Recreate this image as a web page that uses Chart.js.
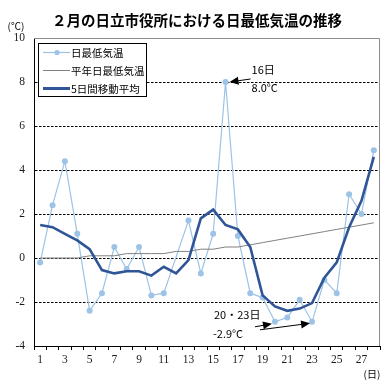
<!DOCTYPE html>
<html>
<head>
<meta charset="utf-8">
<script src="https://cdn.jsdelivr.net/npm/chart.js@4"></script>
<style>
  body { margin: 0; background: #fff; }
  #wrap { width: 388px; height: 390px; }
</style>
</head>
<body>
<div id="wrap"><canvas id="c" width="388" height="390"></canvas></div>
<script>
// 2月の日立市役所 日最低気温
const days = ["1","2","3","4","5","6","7","8","9","10","11","12","13","14",
  "15","16","17","18","19","20","21","22","23","24","25","26","27","28"];
const dailyMin = [-0.2, 2.4, 4.4, 1.1, -2.4, -1.6, 0.5, -0.5, 0.5, -1.7, -1.6, null, 1.7, -0.7,
  1.1, 8.0, 1.0, -1.6, -1.8, -2.9, -2.7, -1.9, -2.9, -1.0, -1.6, 2.9, 2.0, 4.9];
const normalMin = [0.0, 0.0, 0.0, 0.0, 0.1, 0.1, 0.1, 0.2, 0.2, 0.2, 0.2, 0.3, 0.3, 0.4,
  0.4, 0.5, 0.5, 0.6, 0.7, 0.8, 0.9, 1.0, 1.1, 1.2, 1.3, 1.4, 1.5, 1.6];
const movingAvg = [1.5, 1.4, 1.1, 0.8, 0.4, -0.55, -0.7, -0.6, -0.6, -0.8, -0.4, -0.7, -0.1, 1.8,
  2.2, 1.5, 1.3, 0.5, -1.7, -2.2, -2.4, -2.3, -2.05, -0.9, -0.2, 1.4, 2.6, 4.6];
const yTicks = [-4, -2, 0, 2, 4, 6, 8, 10];

const LIGHT = "#9dc3e6";
const DARK = "#2f5597";
const GRAY = "#808080";
const JP = "'Noto Sans CJK JP', 'Noto Sans', sans-serif";
const SERIF = "'Liberation Serif', 'DejaVu Serif', serif";

function arrow(ctx, x1, y1, x2, y2) {
  const a = Math.atan2(y2 - y1, x2 - x1);
  ctx.beginPath();
  ctx.moveTo(x1, y1);
  ctx.lineTo(x2 - 6 * Math.cos(a), y2 - 6 * Math.sin(a));
  ctx.stroke();
  ctx.beginPath();
  ctx.moveTo(x2, y2);
  ctx.lineTo(x2 - 9 * Math.cos(a) + 4 * Math.sin(a), y2 - 9 * Math.sin(a) - 4 * Math.cos(a));
  ctx.lineTo(x2 - 9 * Math.cos(a) - 4 * Math.sin(a), y2 - 9 * Math.sin(a) + 4 * Math.cos(a));
  ctx.closePath();
  ctx.fill();
}

const extras = {
  id: "extras",
  afterDraw(chart) {
    const { ctx, chartArea: ca, scales } = chart;
    ctx.save();
    // frame top & right
    ctx.strokeStyle = "#8c8c8c";
    ctx.lineWidth = 1;
    ctx.beginPath();
    ctx.moveTo(ca.left, ca.top + 0.5);
    ctx.lineTo(ca.right - 0.5, ca.top + 0.5);
    ctx.lineTo(ca.right - 0.5, ca.bottom);
    ctx.stroke();

    // title and units
    ctx.fillStyle = "#000";
    ctx.textAlign = "center";
    ctx.textBaseline = "middle";
    ctx.font = "bold 14.5px " + JP;
    ctx.fillText("２月の日立市役所における日最低気温の推移", 197, 20);
    ctx.font = "10px " + JP;
    ctx.fillText("(℃)", 16, 26);
    ctx.fillText("(日)", 372, 374);

    // legend
    const lx = 38, ly = 43, lw = 108, lh = 53;
    ctx.fillStyle = "#fff";
    ctx.fillRect(lx, ly, lw, lh);
    ctx.strokeStyle = "#000";
    ctx.strokeRect(lx + 0.5, ly + 0.5, lw, lh);
    const rows = [
      { t: "日最低気温", c: LIGHT, w: 1.2, dot: true, y: 52.5 },
      { t: "平年日最低気温", c: GRAY, w: 1, dot: false, y: 70.5 },
      { t: "5日間移動平均", c: DARK, w: 3, dot: false, y: 88.5 }
    ];
    ctx.textAlign = "left";
    ctx.font = "10.5px " + JP;
    rows.forEach(r => {
      ctx.strokeStyle = r.c;
      ctx.lineWidth = r.w;
      ctx.beginPath();
      ctx.moveTo(43, r.y);
      ctx.lineTo(70, r.y);
      ctx.stroke();
      if (r.dot) {
        ctx.fillStyle = r.c;
        ctx.beginPath();
        ctx.arc(57, r.y, 2.6, 0, Math.PI * 2);
        ctx.fill();
      }
      ctx.fillStyle = "#000";
      ctx.fillText(r.t, 71, r.y + 0.5);
    });

    // annotations
    const x = scales.x, y = scales.y;
    const p16x = x.getPixelForValue(15), p16y = y.getPixelForValue(dailyMin[15]);
    ctx.font = "11px " + JP;
    ctx.fillStyle = "#000";
    ctx.fillText("16日", p16x + 26, p16y - 12);
    ctx.fillText("8.0°C", p16x + 26, p16y + 6);
    ctx.strokeStyle = "#000";
    ctx.lineWidth = 1;
    arrow(ctx, p16x + 25, p16y - 3, p16x + 4, p16y);

    const p20x = x.getPixelForValue(19), p20y = y.getPixelForValue(dailyMin[19]);
    const p23x = x.getPixelForValue(22), p23y = y.getPixelForValue(dailyMin[22]);
    ctx.fillText("20・23日", p20x - 61, p20y - 7);
    ctx.fillText("-2.9°C", p20x - 62, p20y + 12);
    arrow(ctx, p20x - 20, p20y + 5, p20x - 3, p20y + 2);
    arrow(ctx, p20x - 15, p20y + 8, p23x - 2, p23y + 1.5);
    ctx.restore();
  }
};

new Chart(document.getElementById("c"), {
  type: "line",
  data: {
    labels: days,
    datasets: [
      { label: "日最低気温", data: dailyMin, borderColor: LIGHT, backgroundColor: LIGHT,
        borderWidth: 1.2, pointRadius: 3, pointBorderWidth: 0, pointBackgroundColor: LIGHT,
        spanGaps: true, tension: 0, order: 2 },
      { label: "平年日最低気温", data: normalMin, borderColor: GRAY, borderWidth: 1,
        pointRadius: 0, tension: 0, order: 1 },
      { label: "5日間移動平均", data: movingAvg, borderColor: DARK, borderWidth: 2.6,
        pointRadius: 0, tension: 0, order: 0 }
    ]
  },
  options: {
    responsive: false,
    animation: false,
    layout: { padding: { top: 38, right: 8, left: 0, bottom: 0 } },
    plugins: { legend: { display: false }, title: { display: false }, tooltip: { enabled: false } },
    scales: {
      x: {
        offset: true,
        afterFit(s) { s.height = 44; },
        grid: { offset: true, drawOnChartArea: false, drawTicks: true, tickLength: 4, color: "#000" },
        border: { color: "#000", width: 1 },
        ticks: {
          autoSkip: false, maxRotation: 0, padding: 3, color: "#1a1a1a",
          font: { family: SERIF, size: 11.5 },
          callback(v, i) { return i % 2 === 0 ? days[i] : ""; }
        }
      },
      y: {
        min: -4, max: 10,
        afterFit(s) { s.width = 34; },
        afterBuildTicks(s) { s.ticks = yTicks.map(v => ({ value: v })); },
        grid: {
          drawTicks: false,
          color(c) { return (c.tick && (c.tick.value === 10 || c.tick.value === -4)) ? "rgba(0,0,0,0)" : "#000"; }
        },
        border: { color: "#000", width: 1, dash: [2.5, 1.5] },
        ticks: { padding: 9, color: "#1a1a1a", font: { family: SERIF, size: 11.5 } }
      }
    }
  },
  plugins: [extras]
});
</script>
</body>
</html>
